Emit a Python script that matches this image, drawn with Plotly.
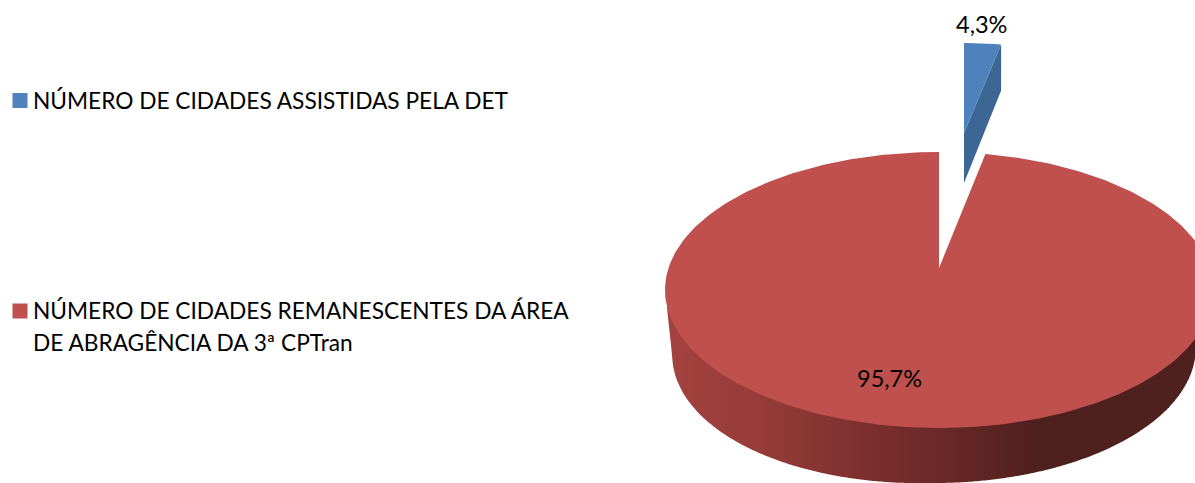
import numpy as np
import plotly.graph_objects as go

legend_lines = [["NÚMERO DE CIDADES ASSISTIDAS PELA DET"],
                ["NÚMERO DE CIDADES REMANESCENTES DA ÁREA", "DE ABRAGÊNCIA DA 3ª CPTran"]]
shares = [4.3, 95.7]
slice_colors = ["#4F81BD", "#C0504D"]
blue_side = "#3C6694"
side_x = [665, 760, 850, 950, 1040, 1213]
side_rgb = [(165, 67, 64), (150, 60, 57), (128, 50, 48), (104, 40, 38), (78, 32, 30), (78, 32, 30)]
FONT = "Lato"
FS = 22.7
FS_LABEL = 23.5

W, H = 1195, 483
A, B, CX, CY = 274, 138, 939, 290      # top ellipse of large slice
AB, BB, CXB, CYB = 262, 136, 934, 347  # bottom rim
LEFT_SAG = 7                           # perspective sag of the left part of the rim
APEX = (939, 268)
FORE = 0.63                            # tilt foreshortening of the angle
t0 = shares[0] * 3.6 * FORE

fig = go.Figure()

def poly(x, y, color):
    fig.add_trace(go.Scatter(x=x, y=y, mode="lines", fill="toself", fillcolor=color,
                             line=dict(color=color, width=0), hoverinfo="skip", showlegend=False))

def top_y(x):
    return CY + B*np.sqrt(np.clip(1 - ((x - CX)/A)**2, 0, 1))

def bot_y(x):
    if x < CXB - AB:   # silhouette between the two rims on the left
        return CY + (CYB + LEFT_SAG - CY)*(x - (CX - A))/((CXB - AB) - (CX - A))
    sag = LEFT_SAG*max(0, CXB - x)/AB
    return CYB + sag + BB*np.sqrt(np.clip(1 - ((x - CXB)/AB)**2, 0, 1))

# side wall of large slice, as vertical colour bands
columns = np.arange(CX - A, W + 2, 2)
for x0, x1 in zip(columns[:-1], columns[1:]):
    rgb = [int(np.interp((x0 + x1)/2, side_x, [c[i] for c in side_rgb])) for i in range(3)]
    poly([x0, x1, x1, x0], [top_y(x0) - 2, top_y(x1) - 2, bot_y(x1), bot_y(x0)],
         f"rgb({rgb[0]},{rgb[1]},{rgb[2]})")

# top of large slice
t = np.radians(np.linspace(t0, 360, 361))
poly([APEX[0], *(CX + A*np.sin(t))], [APEX[1], *(CY - B*np.cos(t))], slice_colors[1])

# pulled-out small slice
S = 0.80
BX, BY = 964, 133
tb = np.radians(np.linspace(0, t0, 12))
rim_x = BX + A*S*np.sin(tb)
rim_y = 43 + B*S*(1 - np.cos(tb))
D0, D1 = 50, 46
poly([BX, rim_x[-1], rim_x[-1], BX], [BY, rim_y[-1], rim_y[-1] + D1, BY + D0], blue_side)
poly([BX, *rim_x], [BY, *rim_y], slice_colors[0])

# legend swatches
fig.add_trace(go.Scatter(x=[20, 20], y=[100.5, 311], mode="markers",
                         marker=dict(symbol="square", size=15, color=slice_colors, line=dict(width=0)),
                         hoverinfo="skip", showlegend=False))

def note(x, y, text, anchor="left", size=FS):
    fig.add_annotation(x=x, y=y, text=text, showarrow=False, xanchor=anchor, yanchor="middle", align="left",
                       font=dict(family=FONT, size=size, color="#000000"))

note(31, 100, legend_lines[0][0])
note(31, 310, legend_lines[1][0])
note(31, 342, legend_lines[1][1])
fmt = [f"{v:.1f}".replace(".", ",") + "%" for v in shares]
note(981, 24, fmt[0], "center", FS_LABEL)
note(889, 378, fmt[1], "center", FS_LABEL)

fig.update_layout(width=W, height=H, margin=dict(l=0, r=0, t=0, b=0), paper_bgcolor="white",
                  plot_bgcolor="white", showlegend=False,
                  xaxis=dict(range=[0, W], visible=False, fixedrange=True),
                  yaxis=dict(range=[H, 0], visible=False, fixedrange=True))
fig.write_html("out.html", post_script="document.body.style.margin='0';", config={"displayModeBar": False})
